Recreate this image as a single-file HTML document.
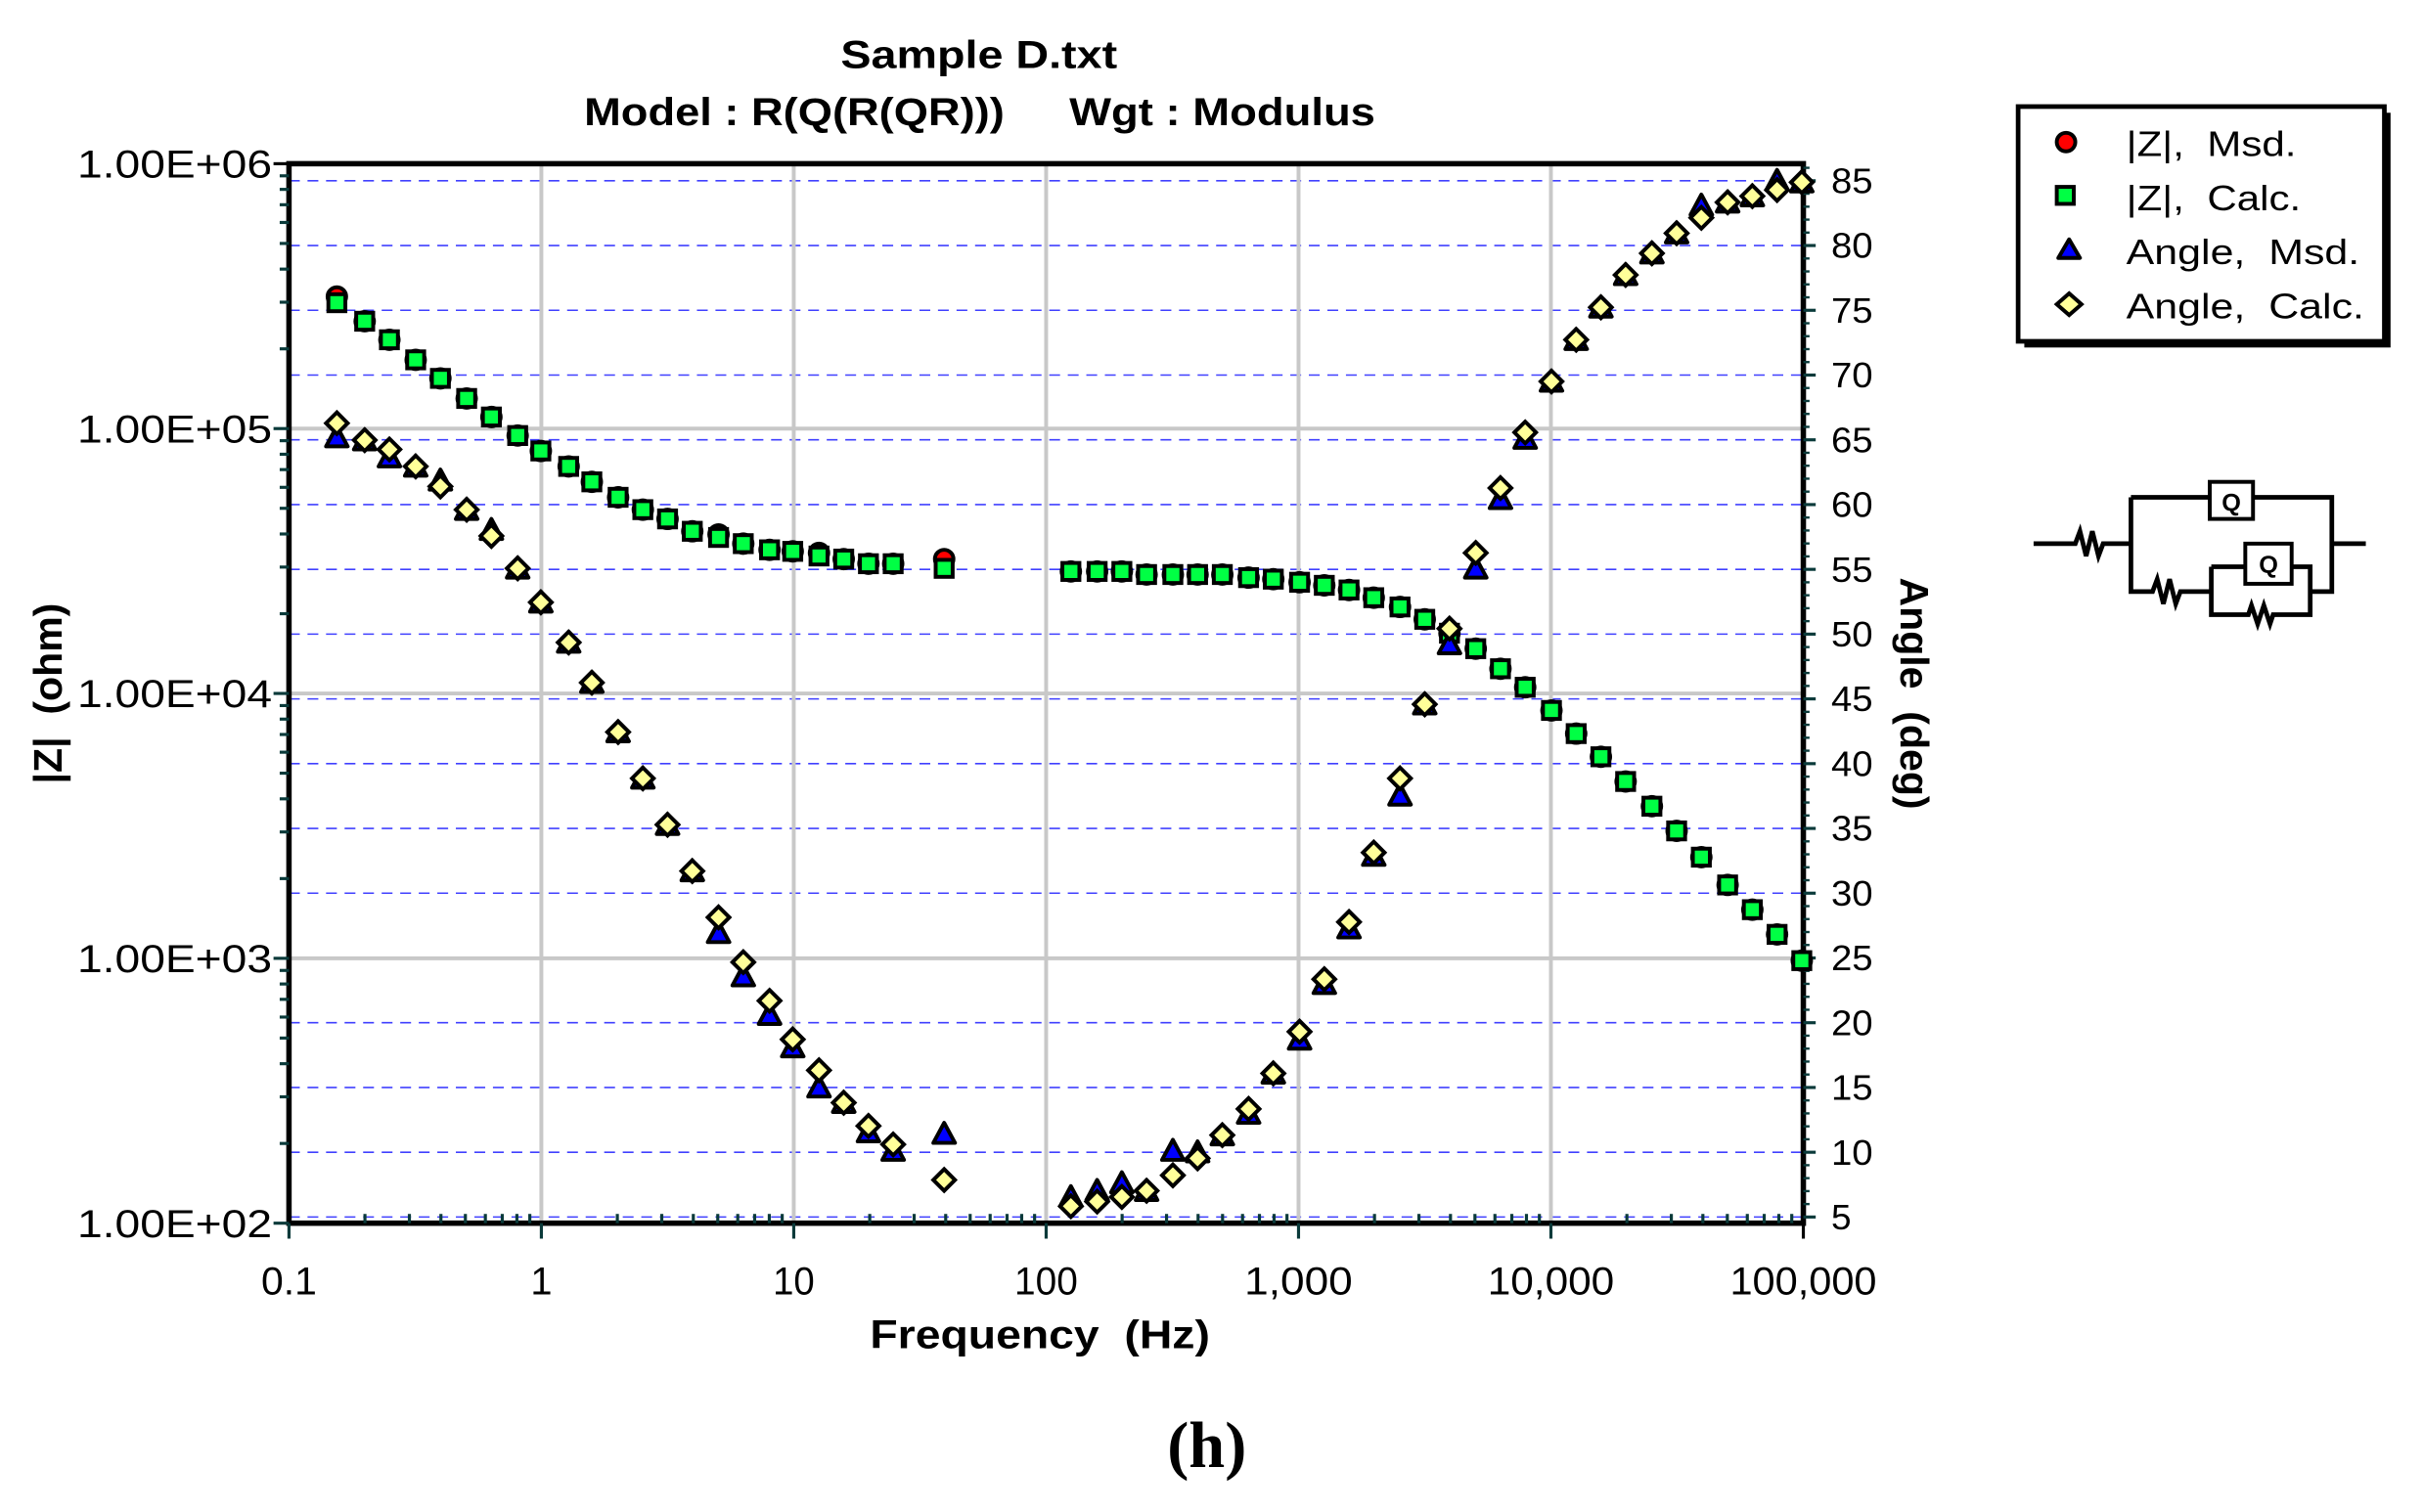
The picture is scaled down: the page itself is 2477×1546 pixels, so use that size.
<!DOCTYPE html>
<html><head><meta charset="utf-8"><style>
html,body{margin:0;padding:0;background:#fff;}
svg{display:block;}
text{font-family:"Liberation Sans",Arial,sans-serif;}
</style></head><body>
<svg id="s" width="2477" height="1546" viewBox="0 0 1568 979" preserveAspectRatio="none" xmlns="http://www.w3.org/2000/svg">
<rect width="1568" height="979" fill="#fff"/>
<g id="grid"></g>
<g id="axes"></g>
<g id="pts"></g>
<text x="544" y="44" font-size="25" font-weight="bold" textLength="179" lengthAdjust="spacingAndGlyphs">Sample D.txt</text>
<text x="378" y="81" font-size="25" font-weight="bold" textLength="272" lengthAdjust="spacingAndGlyphs">Model : R(Q(R(QR)))</text>
<text x="692" y="81" font-size="25" font-weight="bold" textLength="198" lengthAdjust="spacingAndGlyphs">Wgt : Modulus</text>
<text x="563" y="873" font-size="26" font-weight="bold" textLength="220" lengthAdjust="spacingAndGlyphs">Frequency&#160;&#160;(Hz)</text>
<text transform="translate(40,449) rotate(-90)" font-size="26" font-weight="bold" text-anchor="middle">|Z|&#160;&#160;(ohm)</text>
<text transform="translate(1230,449) rotate(90)" font-size="26" font-weight="bold" text-anchor="middle">Angle&#160;&#160;(deg)</text>
<text x="781" y="950" font-size="42" font-weight="bold" text-anchor="middle" style="font-family:'Liberation Serif',serif">(h)</text>
<!-- legend -->
<rect x="1310" y="73" width="237" height="152" fill="#000"/>
<rect x="1306" y="69" width="237" height="152" fill="#fff" stroke="#000" stroke-width="3"/>
<circle cx="1337" cy="92" r="6" fill="#f00" stroke="#000" stroke-width="2.5"/>
<rect x="1331" y="121" width="11" height="11" fill="#0f4" stroke="#000" stroke-width="2.5"/>
<polygon points="1339,155 1346,167 1332,167" fill="#00f" stroke="#000" stroke-width="2.5" stroke-linejoin="round"/>
<polygon points="1339,190 1347,197 1339,204 1331,197" fill="#ff9" stroke="#000" stroke-width="2.5"/>
<g font-size="23">
<text x="1376" y="101" textLength="110" lengthAdjust="spacingAndGlyphs">|Z|,&#160;&#160;Msd.</text>
<text x="1376" y="136" textLength="113" lengthAdjust="spacingAndGlyphs">|Z|,&#160;&#160;Calc.</text>
<text x="1376" y="171" textLength="151" lengthAdjust="spacingAndGlyphs">Angle,&#160;&#160;Msd.</text>
<text x="1376" y="206" textLength="154" lengthAdjust="spacingAndGlyphs">Angle,&#160;&#160;Calc.</text>
</g>
<!-- circuit -->
<g fill="none" stroke="#000" stroke-width="3">
<path d="M1316,352 H1343 l3,-8 l4,16 l4,-16 l4,16 l3,-8 H1379"/>
<path d="M1379,322 V383 H1393 l3,-8 l4,16 l4,-16 l4,16 l3,-8 H1431"/>
<path d="M1379,322 H1430 M1458,322 H1509 V383 H1495 M1509,352 H1531"/>
<rect x="1430" y="312" width="28" height="24" stroke-width="2.5"/>
<path d="M1431,367 V398 H1455 l2,-6 l4,12 l4,-12 l4,12 l2,-6 H1495 V367 H1483 M1431,367 H1453"/>
<rect x="1453" y="352" width="30" height="26" stroke-width="2.5"/>
</g>
<text x="1444" y="331" font-size="16" font-weight="bold" text-anchor="middle">Q</text>
<text x="1468" y="371" font-size="16" font-weight="bold" text-anchor="middle">Q</text>
</svg>
<script>
const NS="http://www.w3.org/2000/svg";
function el(p,t,a){const e=document.createElementNS(NS,t);for(const k in a)e.setAttribute(k,a[k]);p.appendChild(e);return e;}
const L=187,R=1167,T=106,B=792;
const X=f=>187+(Math.log10(f)+1)*163.33;
const Y=z=>792-(Math.log10(z)-2)*171.5;
const A=a=>788-(a-5)*8.387;
const g=document.getElementById('grid'),ax=document.getElementById('axes'),pts=document.getElementById('pts');
for(let a=5;a<=85;a+=5) el(g,'line',{x1:L,x2:R,y1:A(a),y2:A(a),stroke:'#4040ff','stroke-width':1,'stroke-dasharray':'7,5'});
for(let d=3;d<=5;d++) el(g,'line',{x1:L,x2:R,y1:Y(10**d),y2:Y(10**d),stroke:'#c8c8c8','stroke-width':2.5});
for(let d=1;d<=5;d++){const x=X(10**(d-1)); el(g,'line',{x1:x,x2:x,y1:T,y2:B,stroke:'#c8c8c8','stroke-width':2.5});}
el(ax,'rect',{x:L,y:T,width:R-L,height:B-T,fill:'none',stroke:'#000','stroke-width':3.5});
for(let d=2;d<6;d++)for(let m=1;m<10;m++){const y=Y(m*10**d);el(ax,'line',{x1:L-(m==1?10:6),x2:L,y1:y,y2:y,stroke:'#0a3a3a','stroke-width':2});}
el(ax,'line',{x1:L-10,x2:L,y1:T,y2:T,stroke:'#000','stroke-width':2});
for(let d=-1;d<5;d++)for(let m=1;m<10;m++){const x=X(m*10**d);el(ax,'line',{x1:x,x2:x,y1:B,y2:B+(m==1?10:-6),stroke:'#0a3a3a','stroke-width':2});}
el(ax,'line',{x1:R,x2:R,y1:B,y2:B+10,stroke:'#000','stroke-width':2});
for(let a=5;a<=85;a+=5){el(ax,'line',{x1:R,x2:R+8,y1:A(a),y2:A(a),stroke:'#0a3a3a','stroke-width':2});
 const t=el(ax,'text',{x:R+18,y:A(a)+8,'font-size':23,textLength:a<10?13:27,lengthAdjust:'spacingAndGlyphs'});t.textContent=a;}
for(let a=6;a<=86;a++) if(a%5) el(ax,'line',{x1:R,x2:R+4,y1:A(a),y2:A(a),stroke:'#0a3a3a','stroke-width':1.5});
['1.00E+02','1.00E+03','1.00E+04','1.00E+05','1.00E+06'].forEach((s,i)=>{const t=el(ax,'text',{x:50,y:Y(10**(i+2))+9,'font-size':25,textLength:126,lengthAdjust:'spacingAndGlyphs'});t.textContent=s;});
const xw=[36,14,27,41,70,82,95];
['0.1','1','10','100','1,000','10,000','100,000'].forEach((s,i)=>{const x=X(10**(i-1));const t=el(ax,'text',{x:x-xw[i]/2,y:838,'font-size':25,textLength:xw[i],lengthAdjust:'spacingAndGlyphs'});t.textContent=s;});
const xs=[218,236,252,269,285,302,318,335,350,368,383,400,416,432,448,465,481,498,513,530,546,562,578,611,693,710,726,742,759,775,791,808,824,841,857,873,889,906,922,938,955,971,987,1004,1020,1036,1052,1069,1085,1101,1118,1134,1150,1166];
const zc=[196,208,220,233,245,258,270,282,292,302,312,322,330,336,344,348,352,356,357,360,362,365,365,368,370,370,370,372,372,372,372,374,375,377,379,382,387,393,401,410,420,433,445,460,475,490,506,522,538,555,573,589,605,622];
const zm=zc.slice();zm[0]=192;zm[23]=362;zm[19]=358;zm[15]=346;
const ac=[274,285,291,302,315,330,347,368,390,416,442,474,504,534,564,594,623,648,673,693,714,729,741,764,781,778,775,771,761,750,735,718,695,668,634,597,552,504,456,407,358,316,280,247,220,199,178,164,151,141,131,127,123,118];
const am=ac.slice();
const tri={0:283,2:296,4:311,6:343,15:604,16:632,17:657,18:678,19:704,21:733,22:745,23:734,24:775,25:771,26:766,28:745,29:746,31:721,33:673,34:637,35:601,36:554,37:515,39:417,40:368,41:323,42:284,49:133,52:117};
for(const k in tri) am[k]=tri[k];
xs.forEach((x,i)=>{el(pts,'circle',{cx:x,cy:zm[i],r:6,fill:'#f00',stroke:'#000','stroke-width':2.5});});
xs.forEach((x,i)=>{el(pts,'rect',{x:x-5.5,y:zc[i]-5.5,width:11,height:11,fill:'#0f4',stroke:'#000','stroke-width':2.5});});
xs.forEach((x,i)=>{const y=am[i];el(pts,'polygon',{points:`${x},${y-7} ${x+7},${y+6} ${x-7},${y+6}`,fill:'#00f',stroke:'#000','stroke-width':2.5,'stroke-linejoin':'round'});});
xs.forEach((x,i)=>{const y=ac[i];el(pts,'polygon',{points:`${x},${y-7} ${x+7},${y} ${x},${y+7} ${x-7},${y}`,fill:'#ff9',stroke:'#000','stroke-width':2.5});});
</script>
</body></html>
